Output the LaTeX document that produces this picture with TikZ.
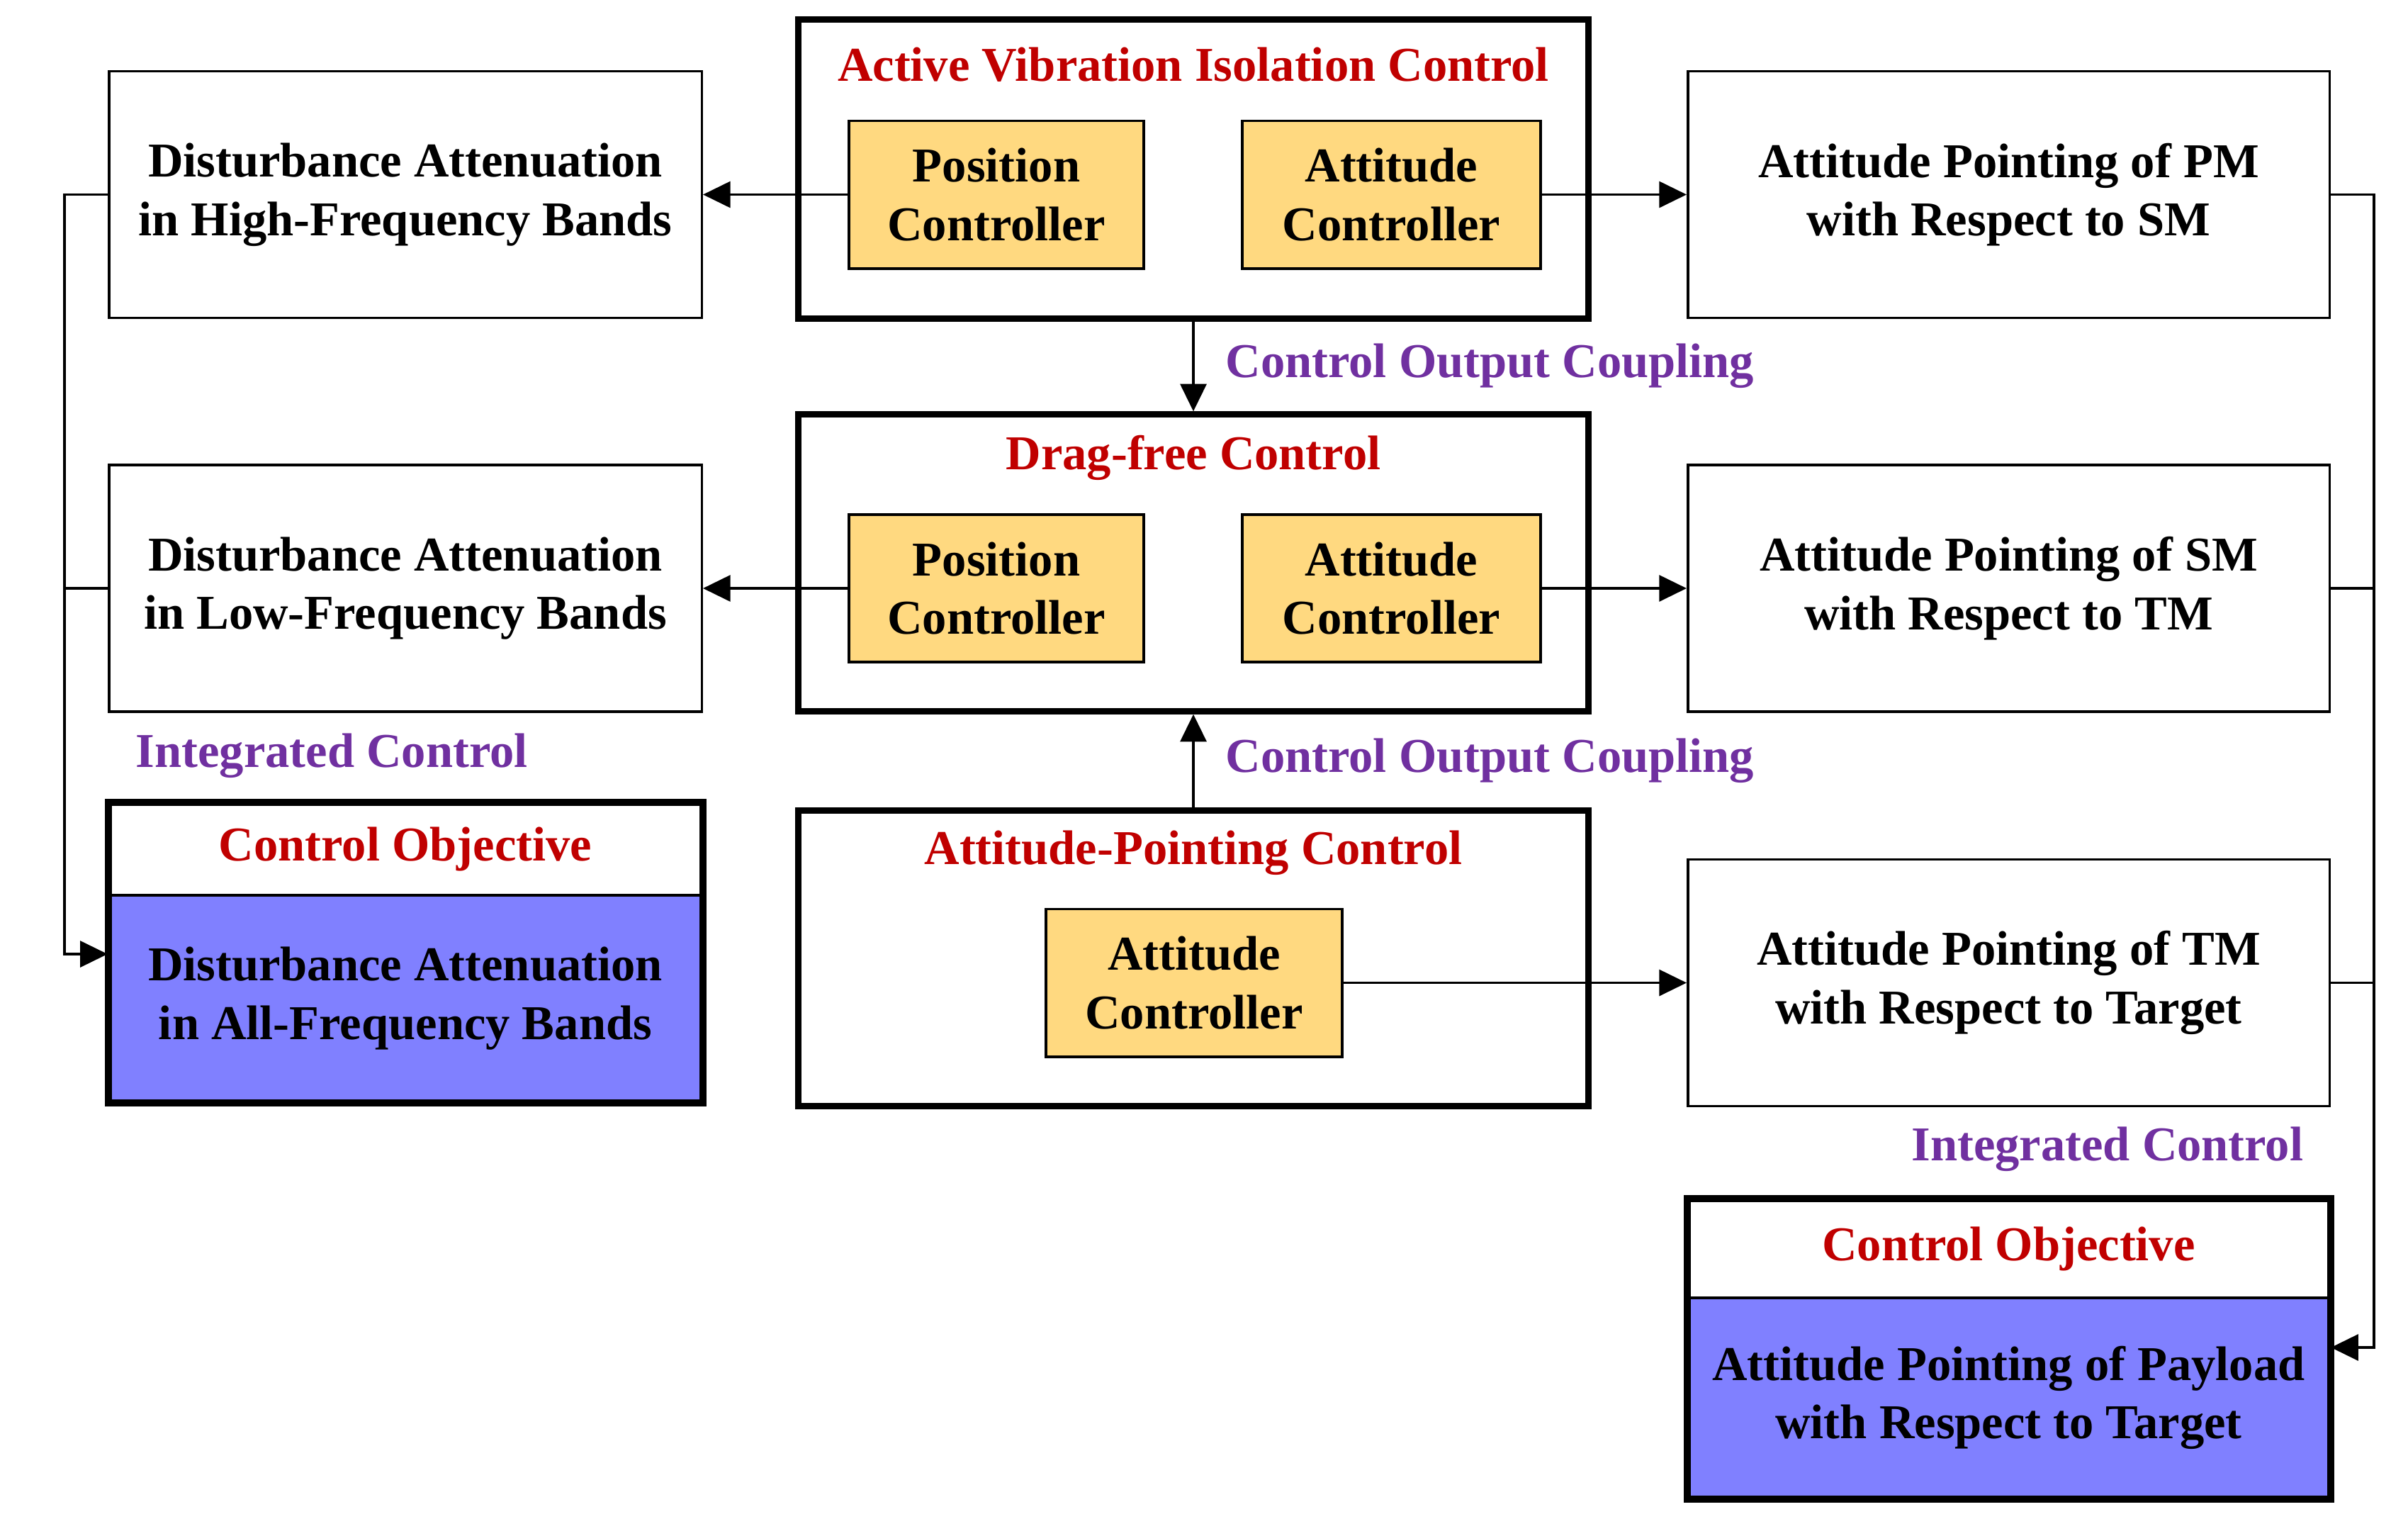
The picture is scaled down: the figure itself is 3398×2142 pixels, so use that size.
\documentclass[tikz,border=0pt]{standalone}
\usepackage{fontspec}
\setmainfont{Liberation Serif}
\usetikzlibrary{arrows.meta}
\definecolor{tred}{RGB}{192,0,0}
\definecolor{tpurple}{RGB}{112,48,160}
\definecolor{tyellow}{RGB}{255,217,128}
\definecolor{tblue}{RGB}{128,128,255}
\begin{document}
\begin{tikzpicture}[x=0.01cm,y=-0.01cm,
  txt/.style={font=\fontsize{19.5}{23.5}\selectfont\bfseries, align=center, inner sep=0pt},
  wbox/.style={txt, draw, line width=1pt, minimum width=#1},
  sidebox/.style={wbox=#1, minimum height=3.48cm},
  bigbox/.style={draw, line width=2.6pt, minimum width=11.14cm, inner sep=0pt},
  ctrl/.style={txt, draw, fill=tyellow, line width=1.1pt, minimum width=#1, minimum height=2.08cm},
  ttl/.style={txt, text=tred},
  lbl/.style={txt, text=tpurple},
  cohead/.style={txt, text=tred, minimum width=#1},
  cobody/.style={txt, fill=tblue, draw, line width=1.1pt, minimum width=#1},
  coframe/.style={draw, line width=2.8pt},
  conn/.style={line width=1pt},
  arr/.style={conn, -{Triangle[length=11pt,width=10.5pt]}}
]
\path[use as bounding box, fill=white] (0,0) rectangle (3398,2142);

% left column
\node[sidebox=8.36cm] (hf) at (572,274.5) {Disturbance Attenuation\\in High-Frequency Bands};
\node[sidebox=8.36cm] (lf) at (572,830) {Disturbance Attenuation\\in Low-Frequency Bands};
\node[lbl, anchor=west] (icl) at (191,1066) {Integrated Control};
\node[cohead=8.36cm, minimum height=1.30cm] (lcoh) at (572,1198) {Control Objective};
\node[cobody=8.36cm, minimum height=2.91cm] (lcob) at (572,1408.5) {Disturbance Attenuation\\in All-Frequency Bands};
\draw[coframe] (lcoh.north west) rectangle (lcob.south east);

% centre column
\node[bigbox, minimum height=4.21cm] (avic) at (1684,238.5) {};
\node[ttl] (avict) at (1684,91) {Active Vibration Isolation Control};
\node[ctrl=4.16cm] (p1) at (1406,274.5) {Position\\Controller};
\node[ctrl=4.21cm] (a1) at (1963.5,274.5) {Attitude\\Controller};

\node[bigbox, minimum height=4.18cm] (df) at (1684,794) {};
\node[ttl] (dft) at (1684,646) {Drag-free Control};
\node[ctrl=4.16cm] (p2) at (1406,830) {Position\\Controller};
\node[ctrl=4.21cm] (a2) at (1963.5,830) {Attitude\\Controller};

\node[bigbox, minimum height=4.16cm] (apc) at (1684,1352) {};
\node[ttl] (apct) at (1684,1203) {Attitude-Pointing Control};
\node[ctrl=4.18cm] (a3) at (1685,1386.5) {Attitude\\Controller};

\node[lbl, anchor=west] (cou1) at (1729,516) {Control Output Coupling};
\node[lbl, anchor=west] (cou2) at (1729,1073) {Control Output Coupling};

% right column
\node[sidebox=9.05cm] (pm) at (2834.5,274.5) {Attitude Pointing of PM\\with Respect to SM};
\node[sidebox=9.05cm] (sm) at (2834.5,830) {Attitude Pointing of SM\\with Respect to TM};
\node[sidebox=9.05cm] (tm) at (2834.5,1386.5) {Attitude Pointing of TM\\with Respect to Target};
\node[lbl, anchor=east] (icr) at (3251,1621) {Integrated Control};
\node[cohead=9.05cm, minimum height=1.39cm] (rcoh) at (2834.5,1761.5) {Control Objective};
\node[cobody=9.05cm, minimum height=2.82cm] (rcob) at (2834.5,1972) {Attitude Pointing of Payload\\with Respect to Target};
\draw[coframe] (rcoh.north west) rectangle (rcob.south east);

% connectors
\draw[arr] (p1.west) -- (hf.east);
\draw[arr] (a1.east) -- (pm.west);
\draw[arr] (p2.west) -- (lf.east);
\draw[arr] (a2.east) -- (sm.west);
\draw[arr] (a3.east) -- (tm.west);
\draw[arr] (avic.south) -- (df.north);
\draw[arr] (apc.north) -- (df.south);

\coordinate (lbus) at (91,1346);
\draw[arr] (hf.west) -| (lbus) -- (lbus -| lcob.west);
\draw[conn] (lf.west) -- (lf.west -| lbus);

\coordinate (rbus) at (3350,1901);
\draw[arr] (pm.east) -| (rbus) -- (rbus -| rcob.east);
\draw[conn] (sm.east) -- (sm.east -| rbus);
\draw[conn] (tm.east) -- (tm.east -| rbus);
\end{tikzpicture}
\end{document}
